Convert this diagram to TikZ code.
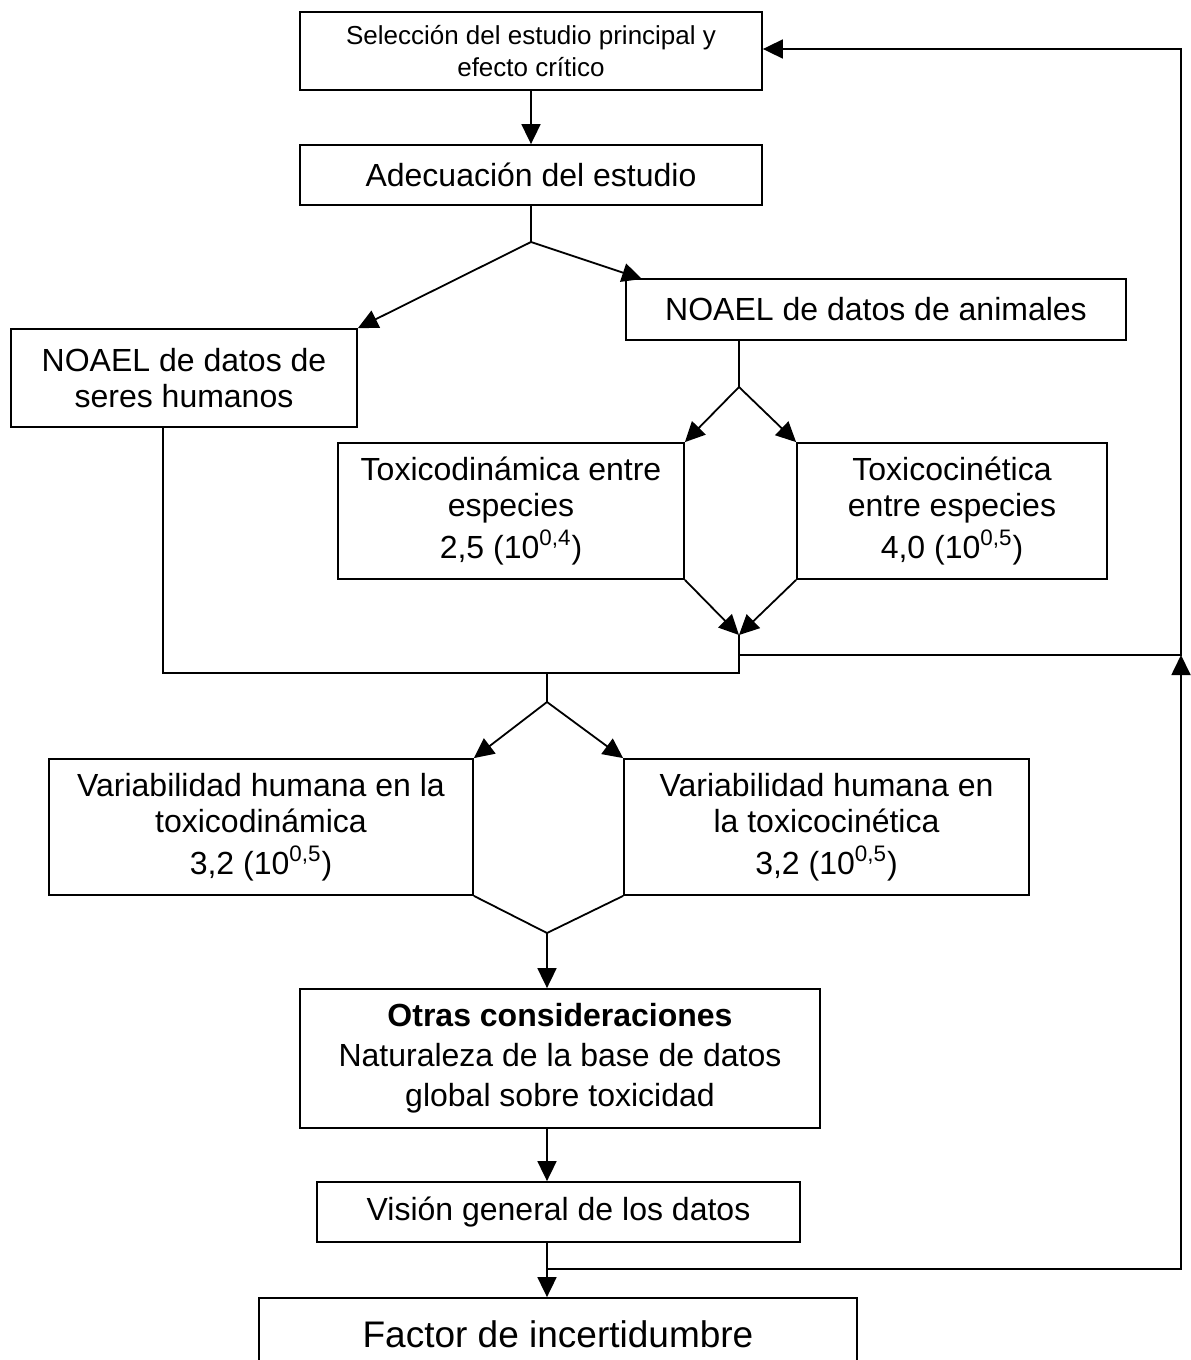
\documentclass[tikz,border=0pt]{standalone}
\usepackage{fontspec}
\setmainfont{Liberation Sans}
\usetikzlibrary{arrows.meta}
\tikzset{
	caja/.style 2 args={draw,inner sep=0pt,align=center,minimum width=#1*0.5pt,minimum height=#2*0.5pt},
}
\begin{document}
\begin{tikzpicture}[>={Triangle[length=10pt,width=9.5pt]},line join=miter,x=0.5pt,y=-0.5pt,line width=0.9pt,font=\fontsize{16}{18}\selectfont]
			\useasboundingbox (0,0) rectangle (1190,1360);
			\node[caja={462}{78},font=\fontsize{13}{16}\selectfont] (sel) at (531,51) {Selección del estudio principal y\\efecto crítico};
			\node[caja={462}{60}] (adec) at (531,175) {Adecuación del estudio};
			\node[caja={346}{98}] (hum) at (184,378) {NOAEL de datos de\\seres humanos};
			\node[caja={500}{61}] (ani) at (876,309.5) {NOAEL de datos de animales};
			\node[caja={346}{136}] (tdin) at (511,511) {Toxicodinámica entre\\especies\\[3pt]2,5 (10\textsuperscript{0,4})};
			\node[caja={310}{136}] (tcin) at (952,511) {Toxicocinética\\entre especies\\[3pt]4,0 (10\textsuperscript{0,5})};
			\node[caja={424}{136}] (vtd) at (261,827) {Variabilidad humana en la\\toxicodinámica\\[3pt]3,2 (10\textsuperscript{0,5})};
			\node[caja={405}{136}] (vtk) at (826.5,827) {Variabilidad humana en\\la toxicocinética\\[3pt]3,2 (10\textsuperscript{0,5})};
			\node[caja={520}{139},font=\fontsize{16}{20}\selectfont] (otras) at (560,1058.5) {\textbf{Otras consideraciones}\\Naturaleza de la base de datos\\global sobre toxicidad};
			\node[caja={483}{60}] (vis) at (558.5,1212) {Visión general de los datos};
			\node[caja={598}{72},font=\fontsize{18.5}{22}\selectfont] (fac) at (558,1334) {Factor de incertidumbre};
			\coordinate (j1) at (531,242);
			\coordinate (a1) at (642,279);
			\coordinate (j2) at (739,387);
			\coordinate (j3) at (739,635);
			\coordinate (j4) at (739,673);
			\coordinate (l1) at (163,673);
			\coordinate (r1) at (739,655);
			\coordinate (r2) at (1181,655);
			\coordinate (r3) at (1181,49);
			\coordinate (j5) at (547,673);
			\coordinate (j6) at (547,702);
			\coordinate (j7) at (547,933);
			\coordinate (j8) at (547,1269);
			\coordinate (r4) at (1181,1269);
			\draw[->] (sel) -- (adec);
			\draw (adec) -- (j1);
			\draw[->] (j1) -- (hum.north east);
			\draw[->] (j1) -- (a1);
			\draw (ani.south -| j2) -- (j2);
			\foreach \n/\a in {tdin/north east,tcin/north west}{
				\draw[->] (j2) -- (\n.\a);
			}
			\foreach \n/\a in {tdin/south east,tcin/south west}{
				\draw[->] (\n.\a) -- (j3);
			}
			\draw (j3) -- (j4) -- (l1) -- (hum.south -| l1);
			\draw[->] (r1) -- (r2) -- (r3) -- (sel.east |- r3);
			\draw[->] (j8) -- (r4) -- (r2);
			\draw (j5) -- (j6);
			\foreach \n/\a in {vtd/north east,vtk/north west}{
				\draw[->] (j6) -- (\n.\a);
			}
			\draw (vtd.south east) -- (j7) -- (vtk.south west);
			\draw[->] (j7) -- (otras.north -| j7);
			\draw[->] (otras.south -| j7) -- (vis.north -| j7);
			\draw[->] (vis.south -| j7) -- (fac.north -| j7);
		\end{tikzpicture}
\end{document}
